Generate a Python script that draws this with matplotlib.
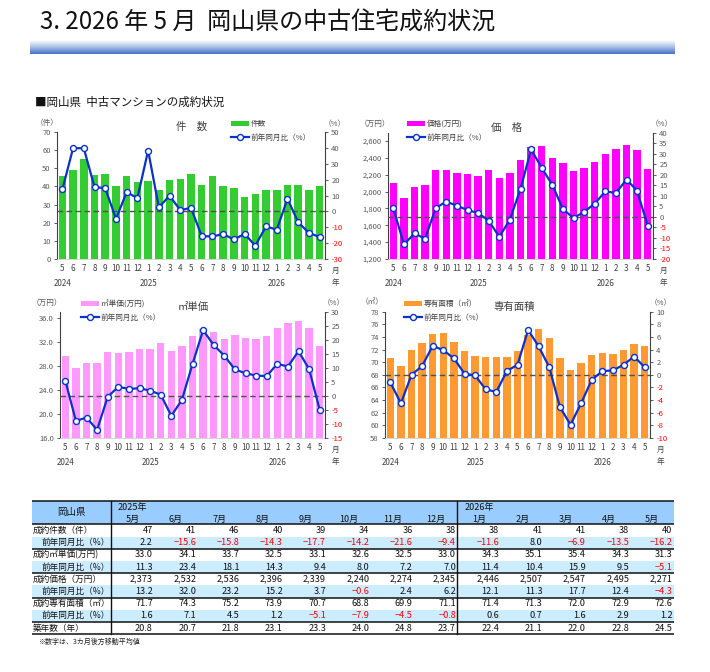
import numpy as np
import matplotlib
matplotlib.use('Agg')
import matplotlib.pyplot as plt
from matplotlib.colors import LinearSegmentedColormap

plt.rcParams['font.family'] = ['Noto Sans CJK JP', 'DejaVu Sans']

W, H = 710, 672

## data (3-month moving averages, 2024/5 - 2026/5)
months = [5, 6, 7, 8, 9, 10, 11, 12, 1, 2, 3, 4, 5, 6, 7, 8, 9, 10, 11, 12, 1, 2, 3, 4, 5]
years = ['2024', '2025', '2026']
year_idx = [0, 8, 20]

count = [46, 49, 55, 46.5, 47, 40, 46, 42.5, 43, 37.8, 43.8, 44.2, 47,
         41, 46, 40, 39, 34, 36, 38, 38, 41, 41, 38, 40]
count_yoy = [13.8, 39.8, 39.8, 15.3, 14.6, -4.7, 12.1, 8.4, 38.3, 2.6, 9.8, 0.8, 2.2,
             -15.6, -15.8, -14.3, -17.7, -14.2, -21.6, -9.4, -11.6, 8.0, -6.9, -13.5, -16.2]

price = [2096, 1918, 2058, 2080, 2255, 2254, 2221, 2208, 2182, 2252, 2164, 2220, 2373,
         2532, 2536, 2396, 2339, 2240, 2274, 2345, 2446, 2507, 2547, 2495, 2271]
price_yoy = [4.2, -13.1, -7.9, -10.4, 4.2, 7.2, 5.3, 3.2, 1.8, -1.8, -9.5, -1.3, 13.2,
             32.0, 23.2, 15.2, 3.7, -0.6, 2.4, 6.2, 12.1, 11.3, 17.7, 12.4, -4.3]

unit = [29.6, 27.6, 28.5, 28.4, 30.3, 30.2, 30.3, 30.8, 30.8, 31.8, 30.5, 31.3, 33.0,
        34.1, 33.7, 32.5, 33.1, 32.6, 32.5, 33.0, 34.3, 35.1, 35.4, 34.3, 31.3]
unit_yoy = [5.4, -9.0, -7.8, -12.2, -0.4, 3.2, 2.4, 2.7, 1.8, 0.4, -7.2, -1.5, 11.3,
            23.4, 18.1, 14.3, 9.4, 8.0, 7.2, 7.0, 11.4, 10.4, 15.9, 9.5, -5.1]

area = [70.6, 69.4, 72.0, 73.0, 74.5, 74.7, 73.2, 71.7, 71.0, 70.8, 70.9, 70.8, 71.7,
        74.3, 75.2, 73.9, 70.7, 68.8, 69.9, 71.1, 71.4, 71.3, 72.0, 72.9, 72.6]
area_yoy = [-1.2, -4.5, 0.0, 1.4, 4.6, 3.9, 2.6, 0.2, -0.1, -2.3, -2.7, 0.6, 1.6,
            7.1, 4.5, 1.2, -5.1, -7.9, -4.5, -0.8, 0.6, 0.7, 1.6, 2.9, 1.2]

age = [20.8, 20.7, 21.8, 23.1, 23.3, 24.0, 24.8, 23.7, 22.4, 21.1, 22.0, 22.8, 24.5]

LINE = '#0A32C8'
GRAY = '#595959'
RED = '#FF0000'

fig = plt.figure(figsize=(W / 100, H / 100), dpi=100)

## background axes in pixel units for title / table
tax = fig.add_axes([0, 0, 1, 1])
tax.set_axis_off()
tax.patch.set_visible(False)

cm = LinearSegmentedColormap.from_list('bar', ['#FFFFFF', '#A9BFE6', '#4472C4'])
grad = np.linspace(0, 1, 60).reshape(-1, 1)
tax.imshow(grad, extent=(30, 675, 54, 40), aspect='auto', cmap=cm, origin='upper')
tax.set_xlim(0, W)
tax.set_ylim(H, 0)

tax.text(40, 23, '3. 2026 年 5 月  岡山県の中古住宅成約状況', fontsize=17.3, va='center', ha='left', color='#111111')
tax.text(35, 102, '■岡山県  中古マンションの成約状況', fontsize=8.3, va='center', ha='left', color='#111111')


def draw_chart(box, bars, yoy, color, left_lim, left_ticks, left_fmt, right_lim, right_ticks,
               bar_label, title, unit_txt, title_x, unit_x, pct_x, legend_xy):
    l, t, r, b = box
    ax = fig.add_axes([l / W, 1 - b / H, (r - l) / W, (b - t) / H])
    x = np.arange(len(bars))
    bh = ax.bar(x, bars, width=0.7, color=color, zorder=2)
    ax.set_xlim(-0.5, len(bars) - 0.5)
    ax.set_ylim(*left_lim)
    ax.set_yticks(left_ticks)
    ax.set_yticklabels([left_fmt.format(v) for v in left_ticks])
    ax.set_xticks(x)
    ax.set_xticklabels([str(m) for m in months])
    ax.tick_params(axis='x', length=0, pad=3.5, labelsize=5.8, labelcolor='#404040')
    ax.tick_params(axis='y', length=2.5, width=0.6, pad=2, labelsize=5.5, labelcolor=GRAY, color='#404040')
    for s in ['top', 'right']:
        ax.spines[s].set_visible(False)
    ax.spines['left'].set_color('#404040')
    ax.spines['left'].set_linewidth(0.8)
    ax.spines['bottom'].set_color('#D0D0D0')
    ax.spines['bottom'].set_linewidth(0.6)

    for yl, i in zip(years, year_idx):
        ax.annotate(yl, xy=(i, 0), xycoords=('data', 'axes fraction'), xytext=(0, -17.5),
                    textcoords='offset points', ha='center', va='center', fontsize=5.8, color='#404040')
    ax.annotate('月', xy=(1, 0), xycoords='axes fraction', xytext=(7.5, -8.5),
                textcoords='offset points', ha='center', va='center', fontsize=5.5, color='#404040')
    ax.annotate('年', xy=(1, 0), xycoords='axes fraction', xytext=(7.5, -17.5),
                textcoords='offset points', ha='center', va='center', fontsize=5.5, color='#404040')

    ax2 = ax.twinx()
    ax2.axhline(0, color='#505050', lw=1.0, ls=(0, (4, 2.5)), zorder=1)
    ln, = ax2.plot(x, yoy, color=LINE, lw=1.6, marker='o', ms=4.3, mfc='white', mec=LINE, mew=1.0, zorder=3)
    ax2.set_ylim(*right_lim)
    ax2.set_yticks(right_ticks)
    ax2.set_yticklabels([str(v) for v in right_ticks])
    ax2.tick_params(axis='y', length=2.5, width=0.6, pad=2, labelsize=5.5, color='#404040')
    for lab, v in zip(ax2.get_yticklabels(), right_ticks):
        lab.set_color(RED if v < 0 else GRAY)
    for s in ['top', 'left', 'bottom']:
        ax2.spines[s].set_visible(False)
    ax2.spines['right'].set_color('#404040')
    ax2.spines['right'].set_linewidth(0.8)

    leg = ax2.legend([bh, ln], [bar_label, '前年同月比（%）'], loc='upper left',
                     bbox_to_anchor=(legend_xy[0] / W, 1 - legend_xy[1] / H), bbox_transform=fig.transFigure,
                     frameon=False, fontsize=5.5, handlelength=2.3, handleheight=0.75, labelspacing=0.75,
                     borderpad=0, borderaxespad=0, handletextpad=0.3)
    for txt in leg.get_texts():
        txt.set_color('#404040')

    fig.text(title_x / W, 1 - (t - 5) / H, title, fontsize=7.5, ha='center', va='center', color='#404040')
    fig.text(unit_x / W, 1 - (t - 9) / H, unit_txt, fontsize=5.5, ha='center', va='center', color=GRAY)
    fig.text(pct_x / W, 1 - (t - 8) / H, '（%）', fontsize=5.5, ha='center', va='center', color=GRAY)
    return ax, ax2


draw_chart((57, 132, 325, 259), count, count_yoy, '#33CC33', (0, 70), list(range(0, 71, 10)), '{}',
           (-30, 50), list(range(-30, 51, 10)), '件数', '件\u3000数', '（件）', 192, 47, 335, (231, 120))

draw_chart((388, 132.5, 653, 259), price, price_yoy, '#FF00FF', (1200, 2700), list(range(1200, 2601, 200)), '{:,}',
           (-20, 40), list(range(-20, 41, 5)), '価格(万円)', '価\u3000格', '（万円）', 507, 375, 662, (407, 120))

draw_chart((60, 311.7, 325, 437.7), unit, unit_yoy, '#FF99FF', (16, 37), [16, 20, 24, 28, 32, 36], '{:.1f}',
           (-15, 30), list(range(-15, 31, 5)), '㎡単価(万円)', '㎡単価', '（万円）', 193, 47, 334, (81, 300))

draw_chart((385, 311.7, 650, 438), area, area_yoy, '#FF9933', (58, 78), list(range(58, 79, 2)), '{}',
           (-10, 10), list(range(-10, 11, 2)), '専有面積（㎡）', '専有面積', '（㎡）', 514, 372, 661, (404, 300))

## table
T_L, T_C, CW, T_R = 31.7, 111.0, 43.3, 674.0
T_TOP, HEAD_B, RH = 500.7, 524.3, 12.22

row_labels = ['成約件数（件）', '前年同月比（%）', '成約㎡単価(万円)', '前年同月比（%）',
              '成約価格（万円）', '前年同月比（%）', '成約専有面積（㎡）', '前年同月比（%）', '築年数（年）']
row_values = [count[-13:], count_yoy[-13:], unit[-13:], unit_yoy[-13:], price[-13:], price_yoy[-13:],
              area[-13:], area_yoy[-13:], age]
row_fmts = ['{:.0f}', '{:.1f}', '{:.1f}', '{:.1f}', '{:,.0f}', '{:.1f}', '{:.1f}', '{:.1f}', '{:.1f}']
col_months = ['{}月'.format(m) for m in months[-13:]]
head_years = [('2025年', 0), ('2026年', 8)]

tax.add_patch(plt.Rectangle((T_L, T_TOP), T_R - T_L, HEAD_B - T_TOP, color='#99CCFF', lw=0, zorder=1))
for i in range(len(row_labels)):
    if i % 2 == 1:
        tax.add_patch(plt.Rectangle((T_L, HEAD_B + RH * i), T_R - T_L, RH, color='#CCECFF', lw=0, zorder=1))

T_BOT = HEAD_B + RH * len(row_labels)
for yy in [T_TOP, HEAD_B, HEAD_B + 2 * RH, HEAD_B + 4 * RH, HEAD_B + 6 * RH, HEAD_B + 8 * RH, T_BOT]:
    tax.plot([T_L, T_R], [yy, yy], color='#111111', lw=1.1, zorder=3, solid_capstyle='butt')
for xx in [T_C, T_C + 8 * CW]:
    tax.plot([xx, xx], [T_TOP, T_BOT], color='#111111', lw=1.0, zorder=3)

tax.text((T_L + T_C) / 2, (T_TOP + HEAD_B) / 2, '岡山県', fontsize=6.8, ha='center', va='center', color='#111111')
for lab, j in head_years:
    tax.text(T_C + CW * j + 7, 507.5, lab, fontsize=6.5, ha='left', va='center', color='#111111')
for j, m in enumerate(col_months):
    tax.text(T_C + CW * (j + 0.5), 519, m, fontsize=6.5, ha='center', va='center', color='#111111')

for i, (lab, vals, fmt) in enumerate(zip(row_labels, row_values, row_fmts)):
    yc = HEAD_B + RH * (i + 0.5)
    if i % 2 == 1:
        tax.text(T_C - 1.5, yc, lab, fontsize=6.2, ha='right', va='center', color='#111111')
    else:
        tax.text(T_L + 1.5, yc, lab, fontsize=6.2, ha='left', va='center', color='#111111')
    for j, v in enumerate(vals):
        s = fmt.format(v)
        c = '#111111'
        if v < 0:
            s = s.replace('-', '\u2212')
            c = RED
        tax.text(T_C + CW * (j + 1) - 1.5, yc, s, fontsize=6.6, ha='right', va='center', color=c)

tax.text(38, 641.5, '※数字は、3カ月後方移動平均値', fontsize=5, ha='left', va='center', color='#222222')

fig.savefig('out.png', dpi=100)
